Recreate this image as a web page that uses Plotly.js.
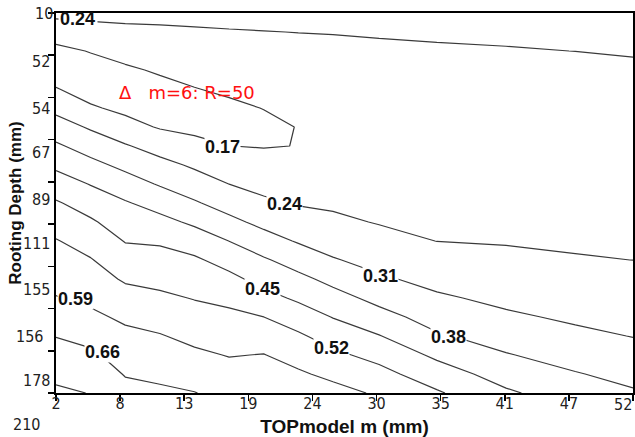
<!DOCTYPE html>
<html><head><meta charset="utf-8">
<script src="https://cdn.plot.ly/plotly-3.0.1.min.js"></script>
<style>html,body{margin:0;padding:0;background:#fff}#chart{width:635px;height:437px}</style>
</head><body><div id="chart"></div>
<script>
// TOPmodel m (mm) grid columns
const mValues = [2, 5, 8, 11, 14, 17, 20, 23, 26, 30, 35, 41, 47, 52];
// Rooting depth (mm) grid rows
const depthValues = [10, 20, 30, 40, 50, 60, 70, 80, 90, 100, 110, 120, 130, 140, 150, 160, 170, 180, 190, 200, 210];
// Delta values (rows = depth, columns = m)
const r00 = [0.258, 0.259, 0.259, 0.257, 0.256, 0.256, 0.256, 0.254, 0.249, 0.248, 0.248, 0.248, 0.2475, 0.246];
const r01 = [0.200, 0.216, 0.225, 0.230, 0.234, 0.237, 0.239, 0.2406, 0.241, 0.242, 0.243, 0.243, 0.244, 0.2437];
const r02 = [0.154, 0.173, 0.191, 0.204, 0.212, 0.218, 0.222, 0.227, 0.234, 0.236, 0.2375, 0.239, 0.2401, 0.2409];
const r03 = [0.139, 0.144, 0.161, 0.177, 0.190, 0.199, 0.205, 0.213, 0.226, 0.230, 0.232, 0.235, 0.236, 0.2381];
const r04 = [0.173, 0.145, 0.137, 0.152, 0.168, 0.180, 0.188, 0.200, 0.218, 0.224, 0.227, 0.230, 0.233, 0.2353];
const r05 = [0.222, 0.177, 0.156, 0.141, 0.146, 0.158, 0.1715, 0.186, 0.210, 0.218, 0.222, 0.226, 0.229, 0.2326];
const r06 = [0.271, 0.232, 0.192, 0.165, 0.156, 0.146, 0.155, 0.172, 0.203, 0.212, 0.216, 0.2215, 0.225, 0.2298];
const r07 = [0.320, 0.281, 0.246, 0.212, 0.187, 0.1704, 0.167, 0.171, 0.195, 0.206, 0.211, 0.217, 0.222, 0.2270];
const r08 = [0.366, 0.329, 0.293, 0.261, 0.230, 0.205, 0.194, 0.192, 0.207, 0.212, 0.215, 0.218, 0.222, 0.2257];
const r09 = [0.413, 0.377, 0.341, 0.304, 0.273, 0.2396, 0.221, 0.214, 0.219, 0.220, 0.221, 0.2225, 0.2256, 0.2286];
const r10 = [0.457, 0.420, 0.386, 0.354, 0.317, 0.282, 0.251, 0.235, 0.232, 0.228, 0.227, 0.2275, 0.229, 0.2314];
const r11 = [0.491, 0.459, 0.416, 0.400, 0.368, 0.327, 0.292, 0.268, 0.250, 0.237, 0.233, 0.232, 0.233, 0.2342];
const r12 = [0.524, 0.492, 0.447, 0.442, 0.417, 0.3795, 0.338, 0.304, 0.282, 0.258, 0.2394, 0.237, 0.2367, 0.2371];
const r13 = [0.547, 0.524, 0.479, 0.473, 0.460, 0.425, 0.388, 0.351, 0.315, 0.288, 0.264, 0.250, 0.2417, 0.2399];
const r14 = [0.569, 0.549, 0.512, 0.502, 0.488, 0.467, 0.428, 0.397, 0.361, 0.319, 0.291, 0.273, 0.261, 0.2564];
const r15 = [0.593, 0.575, 0.545, 0.532, 0.517, 0.504, 0.472, 0.439, 0.405, 0.360, 0.319, 0.295, 0.280, 0.2736];
const r16 = [0.626, 0.604, 0.578, 0.564, 0.545, 0.535, 0.5202, 0.486, 0.4475, 0.404, 0.352, 0.320, 0.300, 0.2909];
const r17 = [0.658, 0.640, 0.606, 0.594, 0.573, 0.561, 0.557, 0.530, 0.491, 0.453, 0.388, 0.352, 0.324, 0.3082];
const r18 = [0.686, 0.672, 0.631, 0.620, 0.602, 0.587, 0.592, 0.565, 0.534, 0.499, 0.437, 0.384, 0.354, 0.3338];
const r19 = [0.714, 0.700, 0.656, 0.646, 0.632, 0.613, 0.611, 0.599, 0.574, 0.541, 0.483, 0.421, 0.384, 0.3604];
const r20 = [0.742, 0.728, 0.681, 0.672, 0.662, 0.639, 0.630, 0.633, 0.613, 0.581, 0.528, 0.460, 0.415, 0.387];
const zRows = [r00, r01, r02, r03, r04, r05, r06, r07, r08, r09, r10, r11, r12, r13, r14, r15, r16, r17, r18, r19, r20];

const contourStart = 0.17, contourEnd = 0.73, contourStep = 0.07;

// axis ticks
const xTickVals = [2, 7.556, 13.111, 18.667, 24.222, 29.778, 35.333, 40.889, 46.444, 52];
const xTickText = ['2', '8', '13', '19', '24', '30', '35', '41', '47', '52'];
const yTickVals = [10, 32.22, 54.44, 76.67, 98.89, 121.11, 143.33, 165.56, 187.78, 210];
const yTickText = ['10', '52', '54', '67', '89', '111', '155', '156', '178', '210'];

// contour labels
const contourLabelText = ['0.24', '0.17', '0.24', '0.31', '0.38', '0.45', '0.52', '0.59', '0.66'];

// ---- layout-only positions ----
const yLabelPaper = [0.9974, 0.8711, 0.75, 0.6316, 0.5079, 0.3947, 0.2711, 0.1474, 0.0342, -0.0842];
const yLabelShift = [-1, -4, -4, -4, -4, -4, -4, -11, -4, -14];
const labelX = [3.9, 16.4, 21.8, 30.1, 36.0, 19.9, 25.9, 3.65, 6.0];
const labelY = [12.9, 80.5, 110.5, 148.4, 180.5, 155.2, 186.3, 160.5, 188.4];

const tickFont = {family: 'Liberation Sans Narrow, DejaVu Sans Condensed, Liberation Sans, Arial, sans-serif', size: 16, color: '#222'};
const boldFont = {family: 'Liberation Sans, Arial, sans-serif', size: 18, color: '#111', weight: 'bold'};

// the last x tick label sits inside the right edge (drawn at the axis end, right-aligned)
const xTickTextShown = xTickText.map((t, i) => i === xTickText.length - 1 ? '' : t);

const annotations = [];
yTickText.forEach((t, i) => {
  annotations.push({xref: 'paper', yref: 'paper', x: 0, y: yLabelPaper[i], xanchor: 'right', yanchor: 'middle',
    xshift: yLabelShift[i], text: t, showarrow: false, font: tickFont});
});
annotations.push({xref: 'x', yref: 'paper', x: xTickVals[xTickVals.length - 1], y: 0, xanchor: 'right', yanchor: 'top',
  yshift: -1, text: xTickText[xTickText.length - 1], showarrow: false, font: tickFont, borderpad: 0});
// white patch hiding the line under the top-left label (kept below the text)
annotations.push({xref: 'x', yref: 'y', x: labelX[0], y: labelY[0] + 1.5, text: '\u00a0', showarrow: false,
  width: 38, height: 11, bgcolor: '#fff', borderpad: 0, font: {size: 8}});
contourLabelText.forEach((t, i) => {
  const a = {xref: 'x', yref: 'y', x: labelX[i], y: labelY[i], text: t, showarrow: false,
    font: boldFont, borderpad: 0};
  if (i > 0) a.bgcolor = '#fff';
  annotations.push(a);
});
annotations.push({xref: 'x', yref: 'y', x: 7.3, y: 51.6, xanchor: 'left', yanchor: 'middle',
  text: '\u0394\u00a0\u00a0\u00a0m=6: R=50', showarrow: false,
  font: {family: 'DejaVu Sans, Verdana, sans-serif', size: 18, color: '#ff1010'}});

const data = [{
  type: 'contour', x: mValues, y: depthValues, z: zRows,
  autocontour: false, showscale: false, hoverinfo: 'skip',
  contours: {start: contourStart, end: contourEnd, size: contourStep, coloring: 'none', showlabels: false},
  line: {color: '#3a3a3a', width: 1.2, smoothing: 0}
}];

const layout = {
  width: 635, height: 437,
  margin: {l: 56, r: 2, t: 13, b: 44},
  paper_bgcolor: '#fff', plot_bgcolor: '#fff',
  showlegend: false,
  xaxis: {
    range: [2, 52], tickvals: xTickVals, ticktext: xTickTextShown,
    ticks: 'outside', ticklen: 6, tickwidth: 1.5, tickcolor: '#000',
    showline: true, linewidth: 2, linecolor: '#000', mirror: true,
    showgrid: false, zeroline: false, tickfont: tickFont,
    ticklabelstandoff: -11,
    title: {text: 'TOPmodel m (mm)', font: {family: 'Liberation Sans, Arial, sans-serif', size: 19, color: '#111', weight: 'bold'}, standoff: 8}
  },
  yaxis: {
    range: [210, 10], tickvals: yTickVals, ticktext: yTickText, showticklabels: false,
    ticks: 'outside', ticklen: 6, tickwidth: 1.5, tickcolor: '#000',
    showline: true, linewidth: 2, linecolor: '#000', mirror: true,
    showgrid: false, zeroline: false,
    title: {text: 'Rooting Depth (mm)', font: {family: 'Liberation Sans, Arial, sans-serif', size: 17, color: '#111', weight: 'bold'}, standoff: 22}
  },
  annotations: annotations
};

Plotly.newPlot('chart', data, layout, {staticPlot: true, displayModeBar: false});
</script>
</body></html>
